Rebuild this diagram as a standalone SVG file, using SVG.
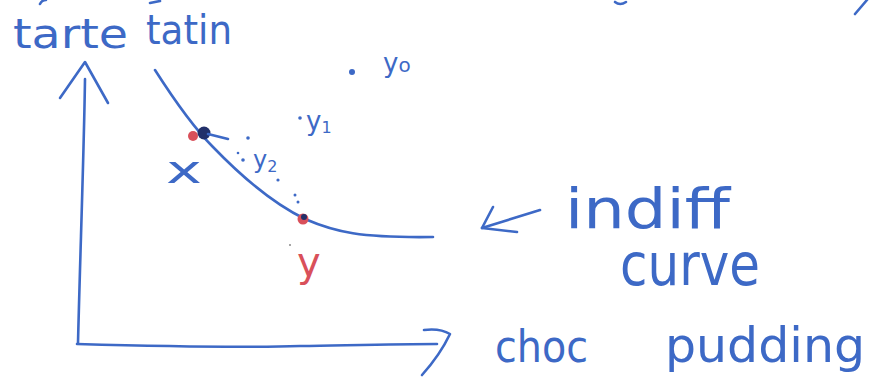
<svg xmlns="http://www.w3.org/2000/svg" width="881" height="387" viewBox="0 0 881 387">
<style>
.ink{fill:none;stroke:#3d69c6;stroke-width:2.6;stroke-linecap:round;stroke-linejoin:round}
.t{font-family:"DejaVu Sans","Liberation Sans",sans-serif;fill:#3d69c6}
.r{fill:#d9505a}
.dot{fill:#3d69c6}
</style>
<rect width="881" height="387" fill="#ffffff"/>
<g id="scraps" class="ink" stroke-width="2">
<path d="M40,4 Q42,0 46,0"/>
<path d="M150,3 L160,1"/>
<path d="M615,2 Q620,6 626,2"/>
<path d="M867,0 L855,14"/>
</g>
<g id="connectors">
<g id="y-axis" class="ink">
<path d="M85,79 C84,150 80,260 78,343"/>
<path d="M60,98 L85,62 L108,103"/>
</g>
<g id="x-axis" class="ink">
<path d="M77,344 C150,346 240,348 300,346 C360,345 400,344 437,344"/>
<path d="M424,330 Q440,328 450,334 Q440,355 422,375"/>
</g>
<g id="curve-arrow" class="ink">
<path d="M540,210 L482,228"/>
<path d="M493,207 L482,228 L517,232"/>
</g>
<g id="indiff-curve" class="ink">
<path d="M155,70 C178,106 196,130 213,147 C240,175 272,203 305,219 C335,232 360,238 433,237"/>
</g>
<g id="dotted-path" class="dot">
<circle cx="248" cy="138" r="1.8"/>
<circle cx="238" cy="153" r="1.3"/>
<circle cx="243" cy="160" r="1.8"/>
<circle cx="278" cy="180" r="1.6"/>
<circle cx="295" cy="195" r="1.5"/>
<circle cx="298" cy="202" r="1.5"/>
</g>
</g>
<g id="label-tarte-tatin">
<text class="t" x="13" y="48" font-size="40" textLength="115" lengthAdjust="spacingAndGlyphs">tarte</text>
<text class="t" x="146" y="44" font-size="40" textLength="86" lengthAdjust="spacingAndGlyphs">tatin</text>
</g>
<g id="label-choc-pudding">
<text class="t" x="495" y="362" font-size="44" textLength="93" lengthAdjust="spacingAndGlyphs">choc</text>
<text class="t" x="665" y="362" font-size="48" textLength="200" lengthAdjust="spacingAndGlyphs">pudding</text>
</g>
<g id="label-indiff-curve">
<text class="t" x="565" y="228" font-size="56" textLength="165" lengthAdjust="spacingAndGlyphs">indiff</text>
<text class="t" x="620" y="285" font-size="58" textLength="140" lengthAdjust="spacingAndGlyphs">curve</text>
</g>
<g id="point-x">
<circle cx="193" cy="136" r="5" class="r"/>
<circle cx="204" cy="133" r="6.5" fill="#22306a"/>
<path d="M208,134 L228,139" class="ink" stroke-width="3"/>
<text class="t" x="166" y="183" font-size="38" textLength="36" lengthAdjust="spacingAndGlyphs">x</text>
</g>
<g id="point-y">
<circle cx="303" cy="219" r="5.5" class="r"/>
<circle cx="304" cy="217" r="3" fill="#22306a"/>
<circle cx="290" cy="245" r="1" fill="#888"/>
<text class="t" x="297" y="276" font-size="40" style="fill:#d9505a">y</text>
</g>
<g id="point-y2">
<text class="t" x="253" y="168" font-size="24">y<tspan font-size="16" dy="4">2</tspan></text>
</g>
<g id="point-y1">
<circle cx="300" cy="118" r="1.8" class="dot"/>
<text class="t" x="306" y="130" font-size="26">y<tspan font-size="16" dy="3">1</tspan></text>
</g>
<g id="point-y0">
<circle cx="352" cy="72" r="3" class="dot"/>
<text class="t" x="383" y="72" font-size="26">y<tspan font-size="20">o</tspan></text>
</g>
</svg>
